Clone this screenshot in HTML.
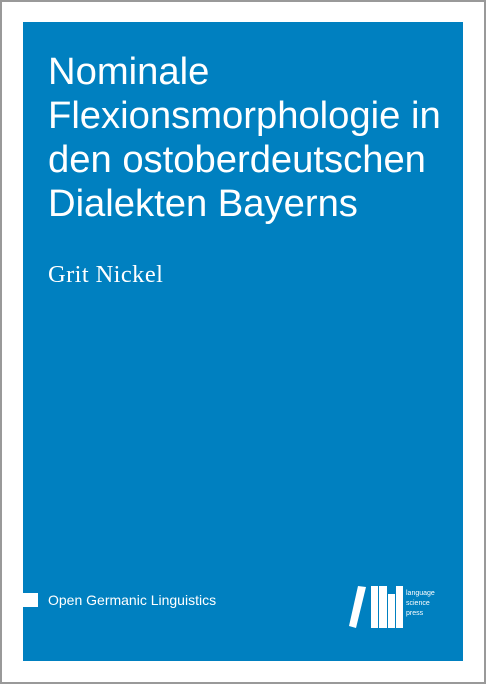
<!DOCTYPE html>
<html><head><style>
html,body{margin:0;padding:0;}
body{width:486px;height:684px;position:relative;background:#fff;overflow:hidden;}
.frame{position:absolute;left:0;top:0;width:482px;height:680px;border:2px solid #999;}
.blue{position:absolute;left:23px;top:22px;width:440px;height:639px;background:#0080c0;}
.title{position:absolute;left:48px;top:50px;color:#fff;font-family:"Liberation Sans",sans-serif;font-size:38.2px;line-height:44px;white-space:nowrap;}
.author{position:absolute;left:48px;top:261px;color:#fff;font-family:"Liberation Serif",serif;font-size:24.5px;letter-spacing:0.4px;}
.sq{position:absolute;left:23px;top:593px;width:15px;height:14px;background:#fff;}
.series{position:absolute;left:48px;top:592px;color:#fff;font-family:"Liberation Sans",sans-serif;font-size:14px;}
.lt{position:absolute;left:406px;color:#fff;font-family:"Liberation Sans",sans-serif;font-size:7px;line-height:9px;}
</style></head><body>
<div class="frame"></div>
<div class="blue"></div>
<div class="title">Nominale<br>Flexionsmorphologie in<br>den ostoberdeutschen<br>Dialekten Bayerns</div>
<div class="author">Grit Nickel</div>
<div class="sq"></div>
<div class="series">Open Germanic Linguistics</div>
<svg style="position:absolute;left:0;top:0" width="486" height="684">
<polygon points="358,586 366,587 356,628 349,626" fill="#fff"/>
<rect x="371" y="586" width="7" height="42" fill="#fff"/>
<rect x="379" y="586" width="8" height="42" fill="#fff"/>
<rect x="388" y="594" width="7" height="34" fill="#fff"/>
<rect x="396" y="586" width="7" height="42" fill="#fff"/>
</svg>
<div class="lt" style="top:589px">language</div>
<div class="lt" style="top:599px">science</div>
<div class="lt" style="top:609px">press</div>
</body></html>
